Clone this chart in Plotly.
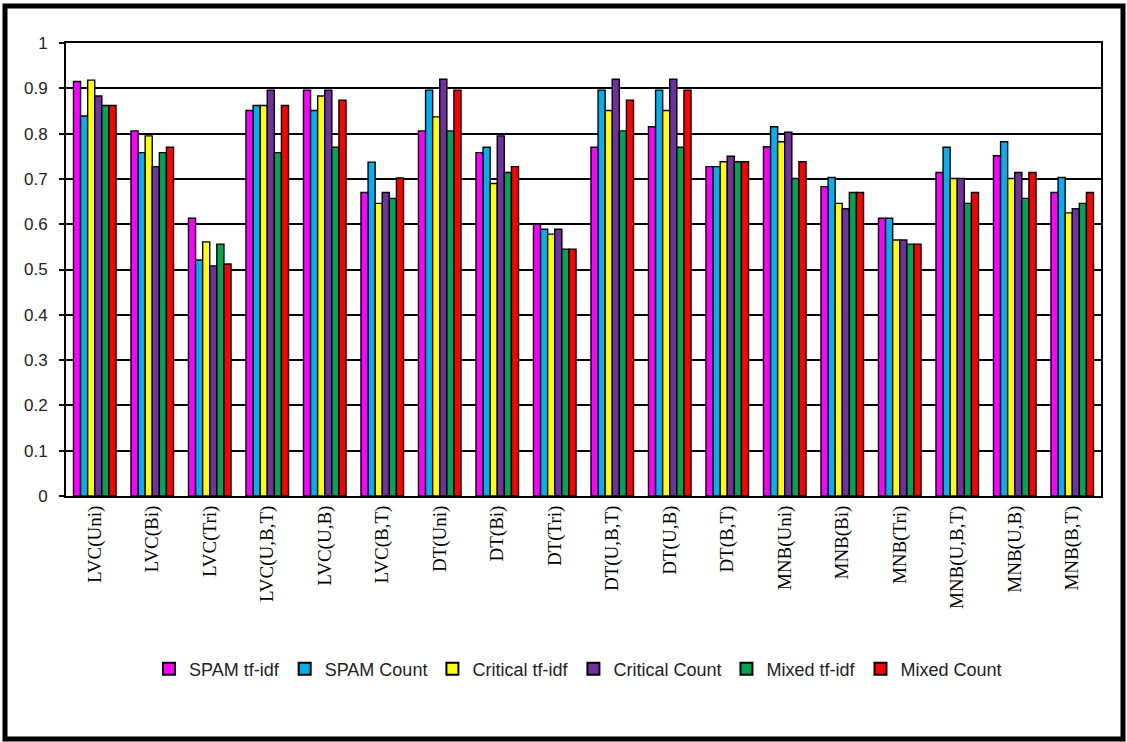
import plotly.graph_objects as go

# Classifier / feature-set combinations on the x axis
categories = [
    "LVC(Uni)", "LVC(Bi)", "LVC(Tri)", "LVC(U,B,T)", "LVC(U,B)", "LVC(B,T)",
    "DT(Uni)", "DT(Bi)", "DT(Tri)", "DT(U,B,T)", "DT(U,B)", "DT(B,T)",
    "MNB(Uni)", "MNB(Bi)", "MNB(Tri)", "MNB(U,B,T)", "MNB(U,B)", "MNB(B,T)",
]

spam_tfidf = [0.915, 0.806, 0.613, 0.851, 0.896, 0.670,
              0.806, 0.758, 0.600, 0.770, 0.815, 0.727,
              0.771, 0.683, 0.613, 0.714, 0.751, 0.670]
spam_count = [0.839, 0.758, 0.521, 0.862, 0.851, 0.737,
              0.896, 0.770, 0.589, 0.896, 0.896, 0.727,
              0.815, 0.703, 0.613, 0.770, 0.782, 0.703]
critical_tfidf = [0.918, 0.795, 0.561, 0.862, 0.883, 0.646,
                  0.837, 0.690, 0.578, 0.851, 0.851, 0.738,
                  0.782, 0.646, 0.565, 0.701, 0.701, 0.625]
critical_count = [0.883, 0.727, 0.508, 0.896, 0.896, 0.670,
                  0.920, 0.795, 0.589, 0.920, 0.920, 0.750,
                  0.803, 0.634, 0.565, 0.701, 0.714, 0.634]
mixed_tfidf = [0.862, 0.758, 0.556, 0.758, 0.770, 0.657,
               0.806, 0.714, 0.545, 0.806, 0.770, 0.738,
               0.701, 0.670, 0.556, 0.646, 0.657, 0.646]
mixed_count = [0.862, 0.770, 0.512, 0.862, 0.874, 0.702,
               0.896, 0.727, 0.545, 0.874, 0.896, 0.738,
               0.738, 0.670, 0.556, 0.670, 0.714, 0.670]

series_names = ["SPAM tf-idf", "SPAM Count", "Critical tf-idf",
                "Critical Count", "Mixed tf-idf", "Mixed Count"]
series_values = [spam_tfidf, spam_count, critical_tfidf,
                 critical_count, mixed_tfidf, mixed_count]
series_colors = ["#FF00FF", "#00B0F0", "#FFFF00", "#7030A0", "#00A550", "#FF0000"]

y_ticks = [0, 0.1, 0.2, 0.3, 0.4, 0.5, 0.6, 0.7, 0.8, 0.9, 1]
y_tick_text = ["0", "0.1", "0.2", "0.3", "0.4", "0.5", "0.6", "0.7", "0.8", "0.9", "1"]

W, H = 1127, 742
ML, MR, MT, MB = 66, 26, 43, 246

fig = go.Figure()
for name, vals, col in zip(series_names, series_values, series_colors):
    fig.add_trace(go.Bar(
        x=categories, y=vals, name=name,
        marker=dict(color=col, line=dict(color="black", width=1.4)),
    ))

pw = W - ML - MR
ph = H - MT - MB


def px_x(p):
    return (p - ML) / pw


def px_y(p):
    return (H - MB - p) / ph


fig.update_layout(
    width=W, height=H,
    margin=dict(l=ML, r=MR, t=MT, b=MB, pad=0),
    paper_bgcolor="white", plot_bgcolor="white",
    barmode="group", bargap=0.26, bargroupgap=0,
    font=dict(family="Liberation Sans, Arial, sans-serif", color="black"),
    showlegend=True,
    legend=dict(
        orientation="h", x=px_x(578), xanchor="center",
        y=px_y(669), yanchor="middle",
        font=dict(family="Liberation Sans, Arial, sans-serif", size=18, color="#222"),
        itemsizing="constant", traceorder="normal", itemwidth=30,
    ),
    xaxis=dict(
        type="category", tickangle=-90,
        tickfont=dict(family="Liberation Serif, Times New Roman, serif", size=19, color="black"),
        showline=True, linecolor="black", linewidth=2, mirror=True,
        ticks="", showgrid=False,
    ),
    yaxis=dict(
        range=[0, 1], tickvals=y_ticks, ticktext=y_tick_text,
        tickfont=dict(family="Liberation Sans, Arial, sans-serif", size=17, color="#222"),
        showline=True, linecolor="black", linewidth=2, mirror=True,
        showgrid=True, gridcolor="black", gridwidth=2,
        ticks="outside", ticklen=5, tickcolor="black", tickwidth=2,
        ticklabelstandoff=8,
        zeroline=False,
    ),
)

# Thick frame around the whole figure
fig.add_shape(
    type="rect", xref="paper", yref="paper",
    x0=px_x(5), x1=px_x(1123), y0=px_y(739), y1=px_y(6),
    line=dict(color="black", width=5), fillcolor="rgba(0,0,0,0)", layer="above",
)

fig.write_html("out.html")
